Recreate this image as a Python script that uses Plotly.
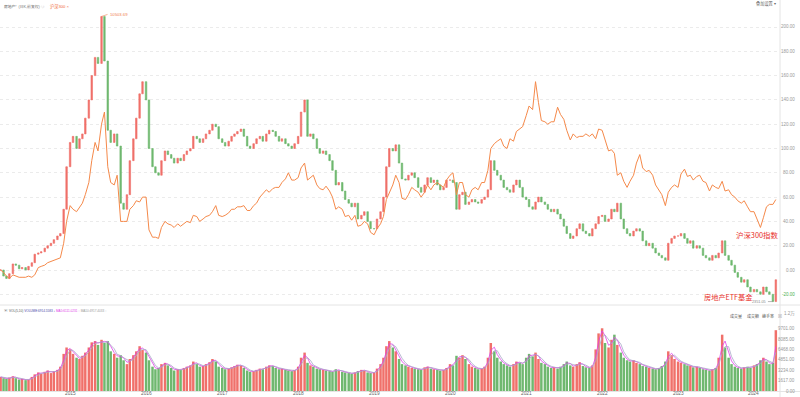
import numpy as np
import pandas as pd
import plotly.graph_objects as go

# ---------------- data (semi-monthly samples, % change since start) ----------------
etf_pct = [
    # 2014 (Feb-Dec)
    0, -5, -7, -3, 5, 4, 1, 2, 0, 3, 6, 13, 14, 15, 18, 20, 22, 25, 28, 30, 50, 85,
    # 2015
    105, 110, 100, 108, 112, 125, 140, 160, 175, 170, 208.69, 172,
    115, 105, 112, 102, 55, 50, 62, 90, 108, 125, 145, 155,
    # 2016
    140, 100, 85, 80, 78, 90, 98, 95, 92, 88, 92, 90,
    95, 98, 100, 110, 108, 105, 108, 112, 115, 120, 118, 108,
    # 2017
    105, 102, 106, 110, 112, 114, 116, 110, 102, 100, 104, 108,
    110, 106, 112, 115, 114, 110, 106, 108, 104, 102, 100, 104,
    # 2018
    110, 130, 140, 110, 112, 108, 100, 96, 98, 95, 90, 82,
    70, 72, 65, 58, 55, 52, 55, 42, 45, 48, 40, 34,
    # 2019
    34, 42, 48, 60, 85, 100, 98, 103, 88, 75, 74, 78,
    80, 76, 68, 64, 70, 76, 72, 74, 70, 66, 68, 74,
    # 2020
    74, 72, 50, 62, 64, 54, 56, 58, 56, 55, 58, 60,
    66, 90, 82, 78, 74, 68, 66, 64, 70, 74, 68, 60,
    # 2021
    58, 52, 50, 56, 60, 56, 54, 50, 48, 50, 46, 42,
    36, 30, 26, 28, 34, 38, 32, 30, 28, 34, 38, 44,
    # 2022
    45, 40, 42, 50, 48, 55, 42, 34, 30, 28, 32, 34,
    32, 24, 20, 22, 18, 14, 12, 10, 8, 22, 26, 28,
    # 2023
    28, 30, 26, 22, 24, 18, 20, 18, 12, 10, 8, 12,
    10, 14, 24, 12, 8, 4, -2, -6, -10, -8, -14, -18,
    # 2024 (Jan-Apr)
    -16, -18, -20, -14, -18, -20, -26, -8,
]

hs300_pct = [
    # 2014
    0, -2, -5, -7, -4, -5, -6, -6, -6, -5, -6, -4, 2, 3, 4, 6, 7, 8, 9, 10, 22, 40,
    # 2015
    53, 50, 48, 52, 55, 62, 72, 90, 105, 98, 120, 130,
    85, 72, 70, 78, 40, 40, 40, 50, 53, 57, 56, 60,
    # 2016
    60, 33, 27, 27, 26, 35, 40, 38, 37, 35, 38, 36,
    38, 40, 39, 45, 44, 40, 42, 44, 45, 48, 53, 45,
    # 2017
    44, 45, 47, 50, 50, 52, 52, 53, 49, 49, 53, 55,
    60, 63, 66, 64, 67, 68, 68, 72, 75, 80, 74, 74,
    # 2018
    76, 84, 88, 74, 76, 78, 70, 67, 66, 69, 65, 60,
    50, 52, 50, 44, 45, 41, 45, 36, 37, 40, 38, 31,
    # 2019
    29, 34, 38, 44, 58, 64, 70, 78, 72, 59, 58, 62,
    68, 66, 64, 60, 64, 70, 66, 70, 72, 70, 68, 74,
    # 2020
    78, 80, 62, 72, 72, 62, 60, 66, 68, 66, 72, 72,
    82, 100, 104, 106, 108, 102, 100, 108, 106, 114, 116, 118,
    # 2021
    127, 135, 132, 155, 138, 123, 122, 120, 122, 122, 134, 128,
    124, 115, 107, 112, 109, 110, 110, 112, 110, 112, 108, 116,
    # 2022
    115, 108, 98, 99, 96, 78, 80, 73, 68, 73, 78, 88,
    95, 84, 81, 82, 78, 70, 66, 62, 53, 64, 68, 70,
    # 2023
    68, 79, 83, 77, 78, 74, 77, 78, 73, 72, 65, 70,
    68, 67, 73, 65, 66, 62, 60, 57, 55, 57, 52, 48,
    # 2024
    48, 42, 35, 43, 52, 54, 54, 58,
]

volume = [
    # 2014
    2200, 2000, 1900, 2100, 2300, 2000, 1800, 1900, 1700, 1800, 2200,
    2600, 2900, 2700, 3000, 3200, 2800, 3100, 3300, 3800, 5800, 6800,
    # 2015
    6500, 5800, 5200, 5000, 5500, 6000, 6800, 7600, 7800, 7200, 8000, 7500,
    7800, 6200, 5800, 5200, 5600, 4800, 4200, 5000, 5600, 6200, 7000, 6400,
    # 2016
    6000, 4800, 3800, 3400, 3600, 4200, 4400, 4000, 3600, 3200, 3400, 3300,
    3600, 3800, 4000, 4600, 4200, 3800, 3900, 4200, 4500, 5000, 4600, 3800,
    # 2017
    3600, 3400, 3500, 3700, 3900, 4100, 4000, 3600, 3200, 3000, 3100, 3300,
    3500, 3400, 3800, 4000, 3900, 3600, 3400, 3500, 3300, 3200, 3100, 3300,
    # 2018
    3800, 5200, 6000, 4400, 4000, 3800, 3500, 3400, 3300, 3200, 3100, 3000,
    3400, 3200, 3000, 2900, 2800, 2700, 2900, 3100, 3300, 3200, 2900, 2800,
    # 2019
    2900, 3500, 4200, 5200, 7000, 7800, 6800, 6200, 5000, 4200, 4000, 3800,
    3600, 3500, 3400, 3300, 3700, 3800, 3500, 3400, 3300, 3200, 3300, 3600,
    # 2020
    4200, 4000, 5500, 5200, 5600, 5000, 4200, 3800, 3600, 3400, 3500, 3800,
    5200, 7500, 6200, 5200, 4600, 4200, 4000, 3800, 4200, 4600, 4400, 4200,
    # 2021
    5200, 5800, 5400, 6000, 5000, 4400, 4200, 3800, 3600, 3700, 3500, 3800,
    4200, 4600, 4000, 3800, 4200, 4500, 3900, 3700, 3600, 4000, 6500, 9000,
    # 2022
    9800, 7500, 6800, 8000, 8800, 7200, 6000, 5200, 4800, 4600, 4800, 4400,
    4200, 3900, 3800, 3600, 3500, 3400, 3600, 3900, 4600, 6200, 5600, 5000,
    # 2023
    4600, 4400, 4200, 4000, 3900, 3700, 3800, 3600, 3400, 3300, 3200, 3400,
    3600, 5200, 8800, 6800, 5200, 4200, 3800, 3600, 3500, 3700, 3800, 3600,
    # 2024
    4000, 4200, 4800, 5200, 4600, 4200, 4400, 9500,
]

price_ticks = [200, 180, 160, 140, 120, 100, 80, 60, 40, 20, 0, -20]
price_tick_labels = ["200.00", "180.00", "160.00", "140.00", "120.00", "100.00",
                     "80.00", "60.00", "40.00", "20.00", "0.00", "-20.00"]
vol_ticks = [0, 1617, 3234, 4851, 6468, 8085, 9701]
vol_tick_labels = ["0.00", "1617.00", "3234.00", "4851.00", "6468.00", "8085.00", "9701.00"]
year_labels = ["2015", "2016", "2017", "2018", "2019", "2020", "2021", "2022", "2023", "2024"]

peak_label = "10503.69"
low_label = "2351.05"

# ---------------- derived ----------------
n = len(etf_pct)
dates = pd.date_range("2014-02-01", periods=n, freq="SMS")
close = np.array(etf_pct, dtype=float)
open_ = np.r_[close[0], close[:-1]]
high = np.maximum(open_, close)
low = np.minimum(open_, close)
vol = np.array(volume[:n], dtype=float)
up = close >= open_
RED = "#f0706a"
GREEN = "#6fb86f"
ORANGE = "#f5894a"
bar_colors = [RED if u else GREEN for u in up]
vol_s = pd.Series(vol)
ma5 = vol_s.rolling(2, min_periods=1).mean()
ma10 = vol_s.rolling(3, min_periods=1).mean()

W, H = 800, 397
PW = 780.0


def px(x):
    return x / PW


def py(y):
    return 1 - y / H


FONT = "Liberation Sans, Arial, Noto Sans CJK SC, sans-serif"

fig = go.Figure()
fig.add_trace(go.Candlestick(
    x=dates, open=open_, high=high, low=low, close=close,
    increasing=dict(line=dict(color=RED, width=0.6), fillcolor=RED),
    decreasing=dict(line=dict(color=GREEN, width=0.6), fillcolor=GREEN),
    xaxis="x", yaxis="y", showlegend=False, name="房地产ETF"))
fig.add_trace(go.Scatter(
    x=dates, y=hs300_pct[:n], mode="lines", line=dict(color=ORANGE, width=1),
    xaxis="x", yaxis="y", showlegend=False, name="沪深300"))
fig.add_trace(go.Bar(
    x=dates, y=vol, marker=dict(color=bar_colors, line=dict(width=0)),
    xaxis="x2", yaxis="y2", showlegend=False, name="VOL"))
fig.add_trace(go.Scatter(
    x=dates, y=ma5, mode="lines", line=dict(color="#e040e8", width=0.8),
    xaxis="x2", yaxis="y2", showlegend=False))
fig.add_trace(go.Scatter(
    x=dates, y=ma10, mode="lines", line=dict(color="#a8a8c8", width=0.8),
    xaxis="x2", yaxis="y2", showlegend=False))

xr = ["2014-01-29", "2024-05-05"]
main_top, main_bot = 8, 303
y0px, per = 270.0, 1.215
yrange = [(y0px - main_bot) / per, (y0px - main_top) / per]

fig.update_layout(
    width=W, height=H,
    margin=dict(l=0, r=20, t=0, b=0),
    paper_bgcolor="white", plot_bgcolor="white",
    font=dict(family=FONT, size=5, color="#888"),
    bargap=0.15, boxgap=0.25,
    xaxis=dict(range=xr, domain=[0, 1], showticklabels=False, showgrid=False,
               zeroline=False, rangeslider=dict(visible=False), anchor="y"),
    xaxis2=dict(range=xr, domain=[0, 1], matches="x", showticklabels=False,
                showgrid=False, zeroline=False, anchor="y2"),
    yaxis=dict(range=yrange, domain=[py(main_bot), py(main_top)], side="right",
               tickvals=price_ticks, showticklabels=False, showgrid=True,
               gridcolor="#ebebeb", griddash="dot", gridwidth=1, zeroline=False),
    yaxis2=dict(range=[0, 12500], domain=[py(391), py(311)], side="right",
                tickvals=vol_ticks, showticklabels=False, showgrid=False,
                zeroline=False),
)

ann = []
# right price labels
for v, t in zip(price_ticks, price_tick_labels):
    col = "#4caf50" if v < 0 else "#999"
    ann.append(dict(x=px(797), xref="paper", y=v, yref="y", text=t, showarrow=False,
                    xanchor="right", yanchor="middle", font=dict(size=4.5, color=col)))
for v, t in zip(vol_ticks, vol_tick_labels):
    ann.append(dict(x=px(797), xref="paper", y=v, yref="y2", text=t, showarrow=False,
                    xanchor="right", yanchor="middle", font=dict(size=4.5, color="#999")))
ann.append(dict(x=px(797), xref="paper", y=py(314), yref="paper", text="1.2万",
                showarrow=False, xanchor="right", yanchor="middle",
                font=dict(size=4.5, color="#999")))
# year labels
for yl in year_labels:
    ann.append(dict(x=f"{yl}-01-01", xref="x2", y=py(393.5), yref="paper", text=yl,
                    showarrow=False, xanchor="center", yanchor="middle",
                    font=dict(size=4.8, color="#666")))
# top legend
top_leg = ("<span style='color:#555'>房地产ᐩ</span> "
           "<span style='color:#777'>(日K,前复权)</span> "
           "<span style='color:#999'>◎</span>")
ann += [
    dict(x=px(2), xref="paper", y=py(6), yref="paper", text=top_leg, showarrow=False,
         xanchor="left", yanchor="middle", font=dict(size=3.8)),
    dict(x=px(48), xref="paper", y=py(6), yref="paper", text="沪深300 ×", showarrow=False,
         xanchor="left", yanchor="middle", font=dict(size=4.2, color="#f06a3a")),
    dict(x=px(778), xref="paper", y=py(4), yref="paper", text="叠加设置 ▾", showarrow=False,
         xanchor="right", yanchor="middle", font=dict(size=4.2, color="#666")),
]
# volume legend (one line, coloured parts)
vol_leg = ("<span style='color:#555'>VOL(5,10)</span> "
           "<span style='color:#4a4aa8'>VOLUME:6914.5583 ↓</span> "
           "<span style='color:#e040e8'>MA5:6111.0231 ↑</span> "
           "<span style='color:#999'>MA10:4917.4033 ↑</span>")
ann.append(dict(x=px(2), xref="paper", y=py(311), yref="paper", text="▣", showarrow=False,
                xanchor="left", yanchor="middle", font=dict(size=3.5, color="#888")))
ann.append(dict(x=px(7), xref="paper", y=py(311), yref="paper", text=vol_leg, showarrow=False,
                xanchor="left", yanchor="middle", font=dict(size=3.1)))
for xx, t in [(728, "成交量"), (745, "成交额"), (760, "换手率")]:
    ann.append(dict(x=px(xx), xref="paper", y=py(316), yref="paper", text=t, showarrow=False,
                    xanchor="left", yanchor="middle", font=dict(size=4.0, color="#555")))
ann.append(dict(x=px(776), xref="paper", y=py(316), yref="paper", text="⊠", showarrow=False,
                xanchor="left", yanchor="middle", font=dict(size=4.0, color="#999")))
# peak / low markers
ipk = int(np.argmax(close))
ilo = int(np.argmin(close))
ann.append(dict(x=dates[ipk], y=close[ipk], xref="x", yref="y", text=peak_label,
                showarrow=True, arrowhead=0, arrowwidth=0.6, arrowcolor="#f08050",
                ax=6, ay=-2, xanchor="left", yanchor="middle",
                font=dict(size=4.2, color="#f08050")))
ann.append(dict(x=dates[ilo], y=low[ilo], xref="x", yref="y", text=low_label,
                showarrow=True, arrowhead=0, arrowwidth=0.6, arrowcolor="#888",
                ax=-5, ay=0, xanchor="right", yanchor="middle",
                font=dict(size=3.8, color="#888")))
# red captions
ann.append(dict(x=px(757), xref="paper", y=py(234), yref="paper", text="沪深300指数",
                showarrow=False, xanchor="center", yanchor="middle",
                font=dict(size=7.4, color="#e8302a", family="Noto Sans CJK SC")))
ann.append(dict(x=px(728), xref="paper", y=py(297), yref="paper", text="房地产ETF基金",
                showarrow=False, xanchor="center", yanchor="middle",
                font=dict(size=7.2, color="#e8302a", family="Noto Sans CJK SC")))
fig.update_layout(annotations=ann)

fig.update_layout(shapes=[
    dict(type="line", xref="paper", yref="paper", x0=1, x1=1, y0=0, y1=1,
         line=dict(color="#e4e4e4", width=1)),
    dict(type="line", xref="paper", yref="paper", x0=0, x1=800 / PW, y0=py(305), y1=py(305),
         line=dict(color="#e4e4e4", width=1)),
    dict(type="line", xref="paper", yref="paper", x0=0, x1=800 / PW, y0=py(391.5), y1=py(391.5),
         line=dict(color="#e4e4e4", width=1)),
])

fig.write_html("out.html",
               config={"displayModeBar": False},
               post_script="document.body.style.margin='0';"
                           "document.documentElement.style.overflow='hidden';")
